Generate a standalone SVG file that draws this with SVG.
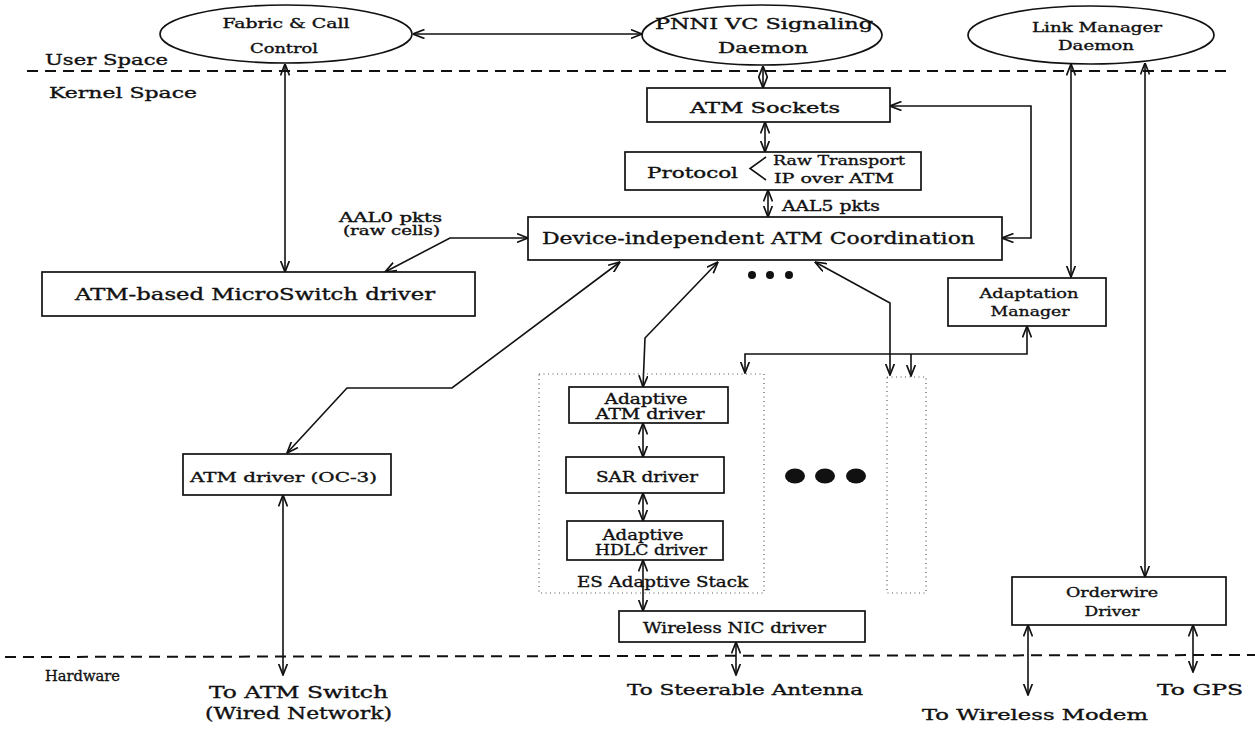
<svg xmlns="http://www.w3.org/2000/svg" width="1255" height="729" viewBox="0 0 1255 729">
  <style>
    text { font-family: "DejaVu Serif", "Liberation Serif", serif; fill: #111; stroke: #111; stroke-width: 0.35; }
    .box { fill: #fff; stroke: #111; stroke-width: 1.7; }
    .oval { fill: #fff; stroke: #111; stroke-width: 1.7; }
    .dotted { fill: none; stroke: #555; stroke-width: 1.2; stroke-dasharray: 1 3.5; }
    .sep { fill: none; stroke: #111; stroke-width: 2; stroke-dasharray: 11 7; }
    .link { fill: none; stroke: #111; stroke-width: 1.6; marker-start: url(#head); marker-end: url(#head); }
    .one { fill: none; stroke: #111; stroke-width: 1.6; marker-end: url(#head); }
    .dot { fill: #111; }
  </style>
  <defs>
    <marker id="head" viewBox="0 0 12 10" refX="11.5" refY="5" markerWidth="12" markerHeight="10" markerUnits="userSpaceOnUse" orient="auto-start-reverse">
      <path d="M0,0.5 L11.5,5 L0,9.5" fill="none" stroke="#111" stroke-width="1.7"/>
    </marker>
  </defs>

  <rect width="1255" height="729" fill="#fff"/>

  <!-- layer separators -->
  <g id="layers">
    <line class="sep" x1="27" y1="71" x2="1228" y2="71"/>
    <line class="sep" x1="5" y1="657" x2="1255" y2="655"/>
    <text x="45" y="65" font-size="15" textLength="123" lengthAdjust="spacingAndGlyphs">User Space</text>
    <text x="49" y="98" font-size="15" textLength="148" lengthAdjust="spacingAndGlyphs">Kernel Space</text>
    <text x="45" y="681" font-size="15" textLength="75" lengthAdjust="spacingAndGlyphs">Hardware</text>
  </g>

  <!-- connectors -->
  <g id="connectors">
    <path class="link" d="M413,34 H642"/>
    <path class="link" d="M285,64 V272"/>
    <path class="link" d="M763,66 V88"/>
    <path class="link" d="M765,122 V152"/>
    <path class="link" d="M768,190 V217"/>
    <path class="link" d="M528,238 H450 L385,272"/>
    <path class="link" d="M1002,238 H1031 V106 H890"/>
    <path class="link" d="M1071,64 V277"/>
    <path class="link" d="M1145,63 V577"/>
    <path class="link" d="M620,262 L452,388 H347 L287,453"/>
    <path class="link" d="M718,262 L645,338 L643,387"/>
    <path class="link" d="M815,262 L890,303 V375"/>
    <path class="link" d="M745,373 V354 H1027 V326"/>
    <path class="one" d="M911,354 V376"/>
    <path class="link" d="M643,423 V457"/>
    <path class="link" d="M643,493 V521"/>
    <path class="link" d="M643,560 V611"/>
    <path class="link" d="M736,642 V675"/>
    <path class="link" d="M283,495 V675"/>
    <path class="link" d="M1028,625 V695"/>
    <path class="link" d="M1193,625 V672"/>
    <text x="339" y="222" font-size="12" textLength="103" lengthAdjust="spacingAndGlyphs">AAL0 pkts</text>
    <text x="343" y="235" font-size="12" textLength="97" lengthAdjust="spacingAndGlyphs">(raw cells)</text>
    <text x="782" y="211" font-size="14" textLength="98" lengthAdjust="spacingAndGlyphs">AAL5 pkts</text>
  </g>

  <!-- user-space daemons -->
  <g id="fabric-call-control">
    <ellipse class="oval" cx="286" cy="34" rx="126" ry="29"/>
    <text x="286" y="28" font-size="12.5" text-anchor="middle" textLength="127" lengthAdjust="spacingAndGlyphs">Fabric &amp; Call</text>
    <text x="284" y="53" font-size="12.5" text-anchor="middle" textLength="68" lengthAdjust="spacingAndGlyphs">Control</text>
  </g>
  <g id="pnni-daemon">
    <ellipse class="oval" cx="762" cy="35" rx="120" ry="30"/>
    <text x="764" y="29" font-size="14" text-anchor="middle" textLength="218" lengthAdjust="spacingAndGlyphs">PNNI VC Signaling</text>
    <text x="763" y="53" font-size="14" text-anchor="middle" textLength="90" lengthAdjust="spacingAndGlyphs">Daemon</text>
  </g>
  <g id="link-manager-daemon">
    <ellipse class="oval" cx="1091" cy="35" rx="123" ry="29"/>
    <text x="1097" y="32" font-size="12" text-anchor="middle" textLength="130" lengthAdjust="spacingAndGlyphs">Link Manager</text>
    <text x="1096" y="50" font-size="12" text-anchor="middle" textLength="76" lengthAdjust="spacingAndGlyphs">Daemon</text>
  </g>

  <!-- kernel-space modules -->
  <g id="atm-sockets">
    <rect class="box" x="647" y="88" width="243" height="34"/>
    <text x="765" y="113" font-size="14" text-anchor="middle" textLength="150" lengthAdjust="spacingAndGlyphs">ATM Sockets</text>
  </g>
  <g id="protocol">
    <rect class="box" x="625" y="152" width="296" height="38"/>
    <text x="647" y="178" font-size="15" textLength="91" lengthAdjust="spacingAndGlyphs">Protocol</text>
    <path d="M766,157 L750,168.5 L766,180" fill="none" stroke="#111" stroke-width="1.6"/>
    <text x="773" y="165" font-size="13.5" textLength="132" lengthAdjust="spacingAndGlyphs">Raw Transport</text>
    <text x="774" y="183" font-size="13.5" textLength="120" lengthAdjust="spacingAndGlyphs">IP over ATM</text>
  </g>
  <g id="atm-coordination">
    <rect class="box" x="528" y="217" width="474" height="43"/>
    <text x="542" y="244" font-size="17" textLength="433" lengthAdjust="spacingAndGlyphs">Device-independent ATM Coordination</text>
  </g>
  <g id="microswitch-driver">
    <rect class="box" x="42" y="272" width="433" height="44"/>
    <text x="75" y="300" font-size="16" textLength="360" lengthAdjust="spacingAndGlyphs">ATM-based MicroSwitch driver</text>
  </g>
  <g id="small-ellipsis">
    <circle class="dot" cx="752" cy="275" r="4"/>
    <circle class="dot" cx="770" cy="275" r="4"/>
    <circle class="dot" cx="789" cy="275" r="4"/>
  </g>
  <g id="adaptation-manager">
    <rect class="box" x="948" y="278" width="158" height="48"/>
    <text x="1029" y="298" font-size="13.5" text-anchor="middle" textLength="99" lengthAdjust="spacingAndGlyphs">Adaptation</text>
    <text x="1030" y="316" font-size="13.5" text-anchor="middle" textLength="79" lengthAdjust="spacingAndGlyphs">Manager</text>
  </g>
  <g id="atm-driver-oc3">
    <rect class="box" x="183" y="454" width="208" height="41"/>
    <text x="190" y="482" font-size="13" textLength="187" lengthAdjust="spacingAndGlyphs">ATM driver (OC-3)</text>
  </g>

  <!-- adaptive stack -->
  <g id="es-adaptive-stack">
    <rect class="dotted" x="539" y="374" width="225" height="219"/>
    <text x="577" y="587" font-size="14.5" textLength="171" lengthAdjust="spacingAndGlyphs">ES Adaptive Stack</text>
  </g>
  <g id="adaptive-atm-driver">
    <rect class="box" x="569" y="387" width="159" height="36"/>
    <text x="646" y="404" font-size="14" text-anchor="middle" textLength="83" lengthAdjust="spacingAndGlyphs">Adaptive</text>
    <text x="650" y="419" font-size="14" text-anchor="middle" textLength="109" lengthAdjust="spacingAndGlyphs">ATM driver</text>
  </g>
  <g id="sar-driver">
    <rect class="box" x="566" y="457" width="158" height="36"/>
    <text x="647" y="482" font-size="14" text-anchor="middle" textLength="102" lengthAdjust="spacingAndGlyphs">SAR driver</text>
  </g>
  <g id="adaptive-hdlc-driver">
    <rect class="box" x="567" y="521" width="156" height="39"/>
    <text x="643" y="540" font-size="14" text-anchor="middle" textLength="81" lengthAdjust="spacingAndGlyphs">Adaptive</text>
    <text x="651" y="555" font-size="14" text-anchor="middle" textLength="112" lengthAdjust="spacingAndGlyphs">HDLC driver</text>
  </g>
  <g id="other-stack">
    <rect class="dotted" x="887" y="377" width="39" height="216"/>
  </g>
  <g id="large-ellipsis">
    <ellipse class="dot" cx="795" cy="476" rx="10" ry="7.5"/>
    <ellipse class="dot" cx="825" cy="476" rx="10" ry="7.5"/>
    <ellipse class="dot" cx="856" cy="476" rx="10" ry="7.5"/>
  </g>
  <g id="wireless-nic-driver">
    <rect class="box" x="619" y="611" width="246" height="31"/>
    <text x="643" y="633" font-size="14" textLength="183" lengthAdjust="spacingAndGlyphs">Wireless NIC driver</text>
  </g>
  <g id="orderwire-driver">
    <rect class="box" x="1012" y="577" width="214" height="48"/>
    <text x="1112" y="597" font-size="12.5" text-anchor="middle" textLength="92" lengthAdjust="spacingAndGlyphs">Orderwire</text>
    <text x="1112" y="616" font-size="12.5" text-anchor="middle" textLength="55" lengthAdjust="spacingAndGlyphs">Driver</text>
  </g>

  <!-- hardware endpoints -->
  <g id="to-atm-switch">
    <text x="209" y="698" font-size="16" textLength="179" lengthAdjust="spacingAndGlyphs">To ATM Switch</text>
    <text x="205" y="719" font-size="16" textLength="187" lengthAdjust="spacingAndGlyphs">(Wired Network)</text>
  </g>
  <g id="to-steerable-antenna">
    <text x="627" y="695" font-size="15" textLength="236" lengthAdjust="spacingAndGlyphs">To Steerable Antenna</text>
  </g>
  <g id="to-wireless-modem">
    <text x="922" y="720" font-size="15" textLength="226" lengthAdjust="spacingAndGlyphs">To Wireless Modem</text>
  </g>
  <g id="to-gps">
    <text x="1157" y="695" font-size="15" textLength="86" lengthAdjust="spacingAndGlyphs">To GPS</text>
  </g>
</svg>
